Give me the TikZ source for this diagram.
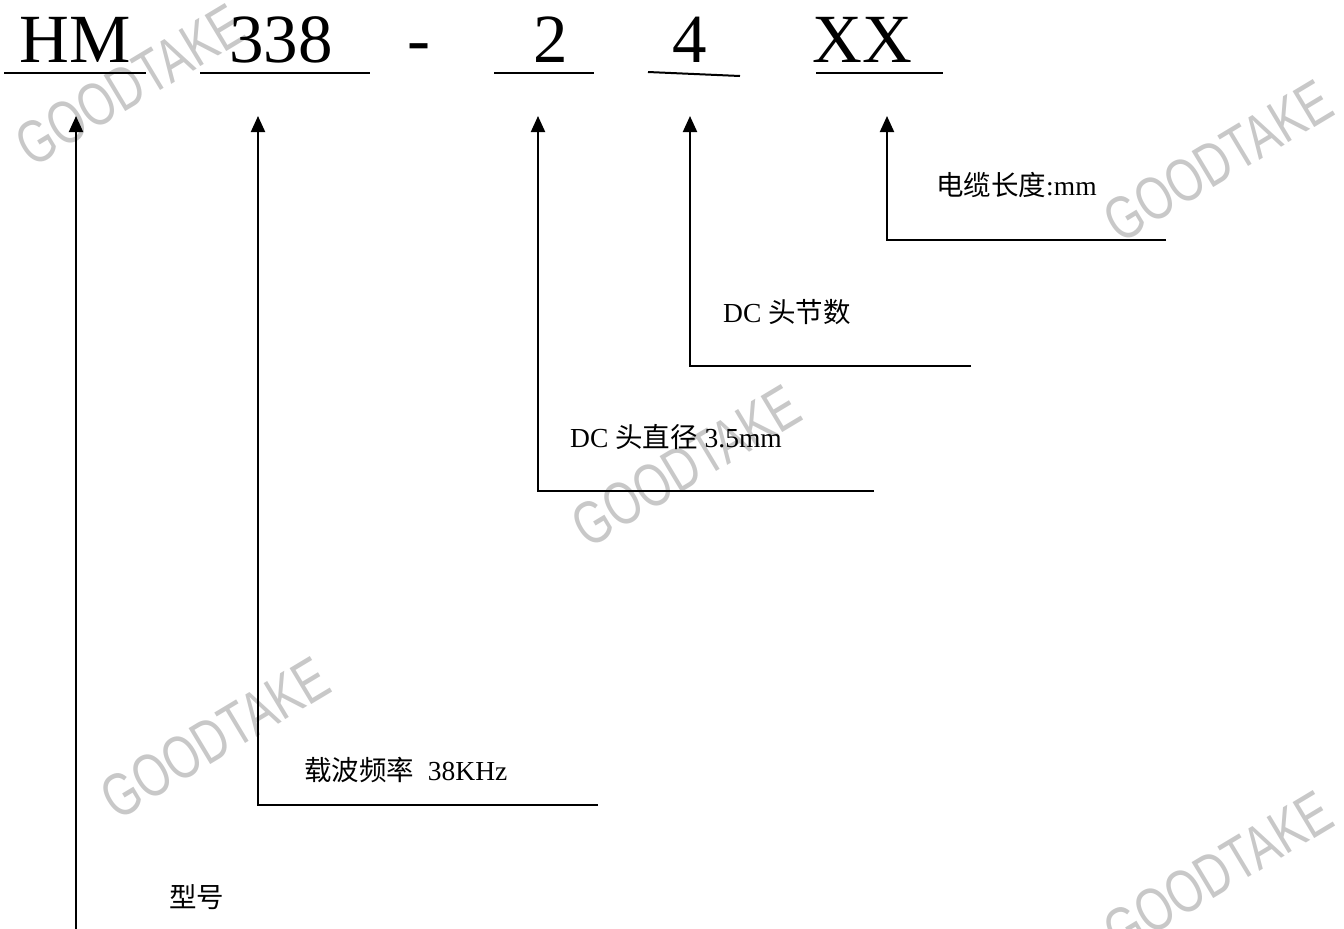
\documentclass[tikz,border=0pt]{standalone}
\usepackage{fontspec}
\setmainfont{Liberation Serif}
\newfontfamily\cjk{Noto Sans CJK SC}
\newfontfamily\wmfont[FakeStretch=0.74]{Liberation Sans}
\usetikzlibrary{arrows.meta}
\definecolor{wmgray}{RGB}{200,200,200}
\begin{document}
\begin{tikzpicture}[x=1pt,y=-1pt,
  code/.style={anchor=base west,inner sep=0pt,font=\fontsize{69}{70}\selectfont},
  lbl/.style={anchor=base west,inner sep=0pt,font=\fontsize{27.5}{29}\selectfont},
  uline/.style={line width=2pt},
  conn/.style={line width=2pt},
  arr/.style={line width=2pt,-{Triangle[length=16pt,width=14pt]}},
  wm/.style={text=wmgray,font=\wmfont\fontsize{61}{62}\selectfont,rotate=31,inner sep=0pt}]
\useasboundingbox (0,0) rectangle (1344,929);
% watermarks
\node[wm] (wm1) at (130,85) {GOODTAKE};
\node[wm] (wm2) at (1218,161) {GOODTAKE};
\node[wm] (wm3) at (686,466) {GOODTAKE};
\node[wm] (wm4) at (215,738) {GOODTAKE};
\node[wm] (wm5) at (1218,872) {GOODTAKE};
% code parts
\node[code] (hm) at (19,62) {HM};
\node[code] (n338) at (229,62) {338};
\node[code] (dash) at (407,62) {-};
\node[code] (n2) at (533,62) {2};
\node[code] (n4) at (672,62) {4};
\node[code] (xx) at (812,62) {XX};
% underlines
\coordinate (u1a) at (4,73);   \coordinate (u1b) at (146,73);
\coordinate (u2a) at (200,73); \coordinate (u2b) at (370,73);
\coordinate (u3a) at (494,73); \coordinate (u3b) at (594,73);
\coordinate (u4a) at (648,72); \coordinate (u4b) at (740,76);
\coordinate (u5a) at (816,73); \coordinate (u5b) at (943,73);
\draw[uline] (u1a) -- (u1b);
\draw[uline] (u2a) -- (u2b);
\draw[uline] (u3a) -- (u3b);
\draw[uline] (u4a) -- (u4b);
\draw[uline] (u5a) -- (u5b);
% arrow tips
\coordinate (t1) at (76,116);
\coordinate (t2) at (258,116);
\coordinate (t3) at (538,116);
\coordinate (t4) at (690,116);
\coordinate (t5) at (887,116);
% corners and ends
\coordinate (c1) at (76,929);
\coordinate (c2) at (258,805); \coordinate (e2) at (598,805);
\coordinate (c3) at (538,491); \coordinate (e3) at (874,491);
\coordinate (c4) at (690,366); \coordinate (e4) at (971,366);
\coordinate (c5) at (887,240); \coordinate (e5) at (1166,240);
\draw[arr] (c1) -- (t1);
\draw[arr] (e2) -- (c2) -- (t2);
\draw[arr] (e3) -- (c3) -- (t3);
\draw[arr] (e4) -- (c4) -- (t4);
\draw[arr] (e5) -- (c5) -- (t5);
% labels
\node[lbl] (l5) at (936,195) {{\cjk 电缆长度}:mm};
\node[lbl] (l4) at (723,322) {DC {\cjk 头节数}};
\node[lbl] (l3) at (570,447) {DC {\cjk 头直径} 3.5mm};
\node[lbl] (l2) at (304,780) {{\cjk 载波频率}\ \ 38KHz};
\node[lbl] (l1) at (169,907) {{\cjk 型号}};
\end{tikzpicture}
\end{document}
